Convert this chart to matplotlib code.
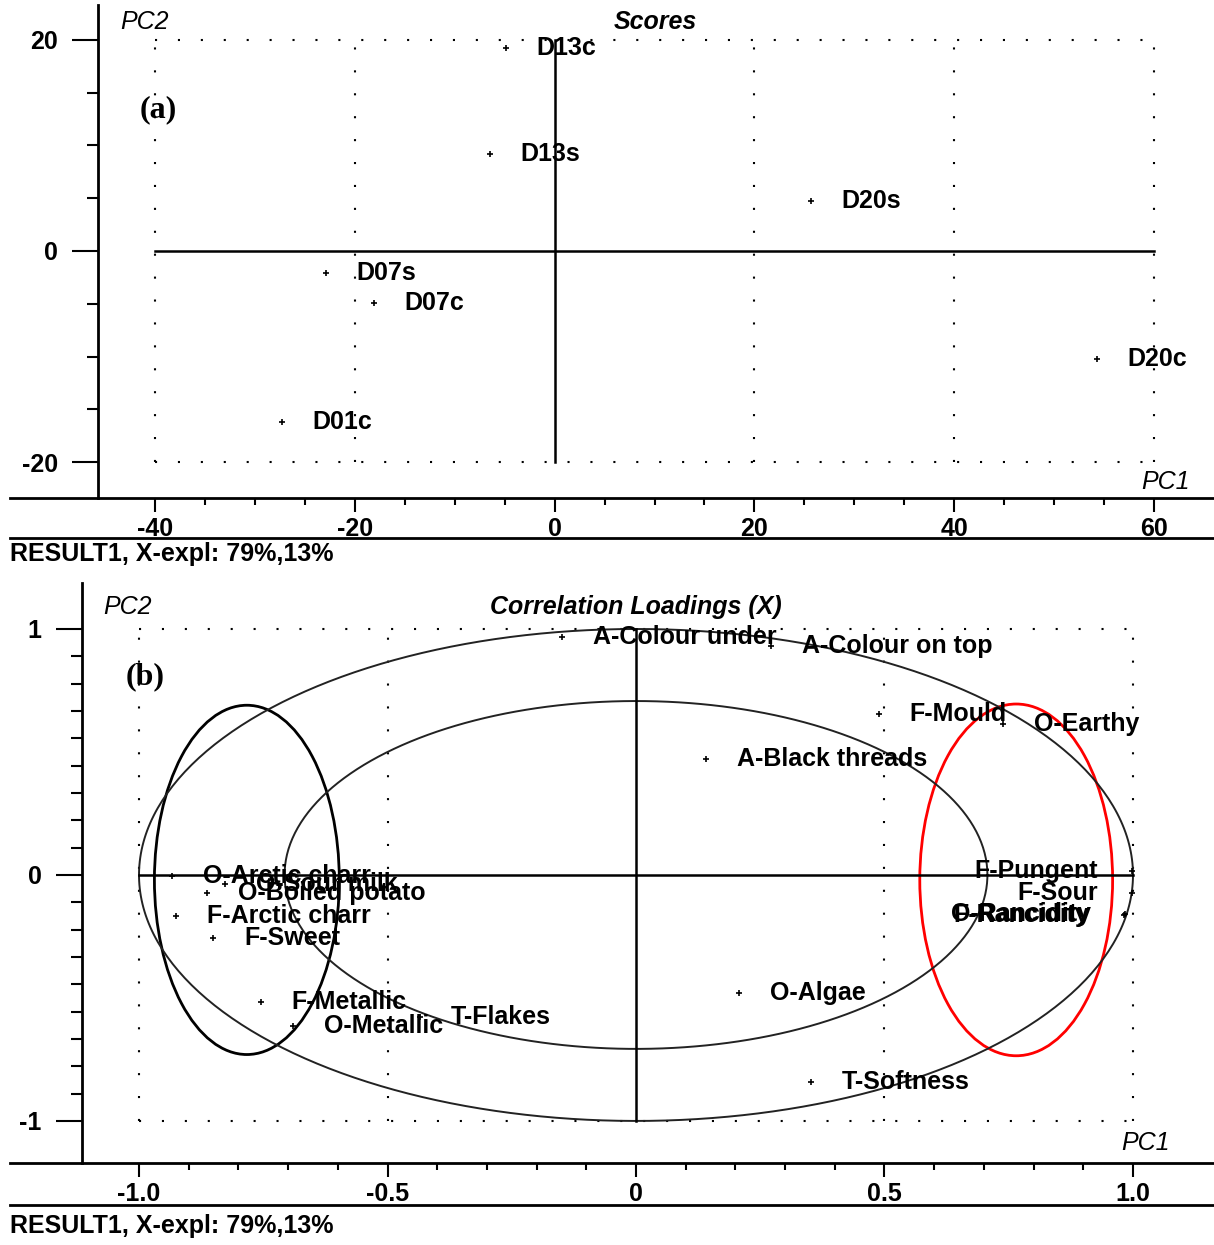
import numpy as np
import matplotlib
matplotlib.use("Agg")
import matplotlib.pyplot as plt
from matplotlib.lines import Line2D
from matplotlib.patches import Ellipse
from matplotlib.ticker import FixedLocator

plt.rcParams['font.family'] = ['Liberation Sans', 'DejaVu Sans']

W, H = 1214, 1245

# ---- scores (PC1, PC2) ----
score_names = ["D13c", "D13s", "D20s", "D07s", "D07c", "D01c", "D20c"]
score_pc1 = [-4.86, -6.47, 25.67, -22.88, -18.08, -27.29, 54.3]
score_pc2 = [19.24, 9.18, 4.72, -2.11, -4.91, -16.2, -10.2]

# ---- correlation loadings ----
load_names = ["A-Colour under", "A-Colour on top", "F-Mould", "O-Earthy",
              "A-Black threads", "F-Pungent", "F-Sour", "O-Rancidity",
              "F-Rancidity", "O-Arctic charr", "O-Sour milk", "O-Boiled potato",
              "F-Arctic charr", "F-Sweet", "F-Metallic", "O-Metallic",
              "T-Flakes", "O-Algae", "T-Softness"]
load_pc1 = [-0.149, 0.272, 0.488, 0.738, 0.141, 0.998, 0.998, 0.984, 0.981,
            -0.934, -0.827, -0.863, -0.926, -0.851, -0.755, -0.69, -0.435,
            0.207, 0.352]
load_pc2 = [0.967, 0.931, 0.654, 0.614, 0.472, 0.016, -0.073, -0.159, -0.163,
            -0.004, -0.037, -0.073, -0.167, -0.256, -0.516, -0.614, -0.577,
            -0.48, -0.841]
# labels drawn on the left of their point (near the right border)
left_labels = {"F-Pungent", "F-Sour", "O-Rancidity", "F-Rancidity"}

footer = "RESULT1, X-expl: 79%,13%"

DOT = (0, (1, 10))
LBL = dict(fontsize=18, fontweight='bold', color='black')


def px_axes(l, t, r, b):
    return [l / W, 1 - b / H, (r - l) / W, (b - t) / H]


def fig_hline(fig, y, x0=10, x1=W):
    fig.add_artist(Line2D([x0 / W, x1 / W], [1 - y / H, 1 - y / H],
                          transform=fig.transFigure, color='black', lw=2))


def style_axes(ax, ymaj, ymin, xmaj, xmin):
    for s in ['top', 'right', 'bottom']:
        ax.spines[s].set_visible(False)
    ax.spines['left'].set_linewidth(2)
    ax.yaxis.set_major_locator(FixedLocator(ymaj))
    ax.yaxis.set_minor_locator(FixedLocator(ymin))
    ax.xaxis.set_major_locator(FixedLocator(xmaj))
    ax.xaxis.set_minor_locator(FixedLocator(xmin))
    ax.tick_params(axis='y', which='major', length=19, width=1.5, pad=10,
                   labelsize=18)
    ax.tick_params(axis='y', which='minor', length=8, width=1.5)
    ax.tick_params(axis='x', which='major', length=10, width=1.5, pad=4,
                   labelsize=18)
    ax.tick_params(axis='x', which='minor', length=5, width=1.5)


fig = plt.figure(figsize=(W / 100, H / 100), dpi=100)

# ================= (a) Scores =================
ax1 = fig.add_axes(px_axes(98, 5, W, 498))
ax1.set_xlim(-45.7, 66.0)
ax1.set_ylim(-23.4, 23.3)
style_axes(ax1, [-20, 0, 20], np.arange(-20, 21, 5),
           [-40, -20, 0, 20, 40, 60], np.arange(-40, 61, 5))
ax1.set_yticklabels(['-20', '0', '20'], fontweight='bold')
ax1.set_xticklabels(['-40', '-20', '0', '20', '40', '60'], fontweight='bold')

for xv in [-40, -20, 20, 40, 60]:
    ax1.plot([xv, xv], [-20, 20], color='black', lw=1.5, ls=DOT)
for yv in [-20, 20]:
    ax1.plot([-40, 60], [yv, yv], color='black', lw=1.5, ls=DOT)
ax1.plot([-40, 60], [0, 0], color='black', lw=1.8)
ax1.plot([0, 0], [-20, 20], color='black', lw=1.8)

ax1.plot(score_pc1, score_pc2, '+', color='black', ms=5, mew=1.2)
for n, x, y in zip(score_names, score_pc1, score_pc2):
    ax1.annotate(n, (x, y), xytext=(30, 0), textcoords='offset pixels',
                 ha='left', va='center', **LBL)

fig_hline(fig, 498)
fig_hline(fig, 538)
fig.text(120 / W, 1 - 22 / H, "PC2", fontsize=18, style='italic',
         va='center', ha='left')
fig.text(655 / W, 1 - 22 / H, "Scores", fontsize=18, style='italic',
         fontweight='bold', va='center', ha='center')
fig.text(1190 / W, 1 - 482 / H, "PC1", fontsize=18, style='italic',
         va='center', ha='right')
fig.text(140 / W, 1 - 110 / H, "(a)", fontsize=23, fontweight='bold',
         family='Liberation Serif', va='center', ha='left')
fig.text(10 / W, 1 - 554 / H, footer, fontsize=18, fontweight='bold',
         va='center', ha='left')

# ================= (b) Correlation loadings =================
ax2 = fig.add_axes(px_axes(82, 583, W, 1163))
ax2.set_xlim(-1.1147, 1.163)
ax2.set_ylim(-1.171, 1.187)
style_axes(ax2, [-1, 0, 1], np.linspace(-1, 1, 19),
           [-1, -0.5, 0, 0.5, 1], np.linspace(-1, 1, 21))
ax2.set_yticklabels(['-1', '0', '1'], fontweight='bold')
ax2.set_xticklabels(['-1.0', '-0.5', '0', '0.5', '1.0'], fontweight='bold')

for xv in [-1, -0.5, 0.5, 1]:
    ax2.plot([xv, xv], [-1, 1], color='black', lw=1.5, ls=DOT)
for yv in [-1, 1]:
    ax2.plot([-1, 1], [yv, yv], color='black', lw=1.5, ls=DOT)

# 100% and 50% explained variance circles
t = np.linspace(0, 2 * np.pi, 400)
for r in [1.0, np.sqrt(0.5)]:
    ax2.plot(r * np.cos(t), r * np.sin(t), color='#222222', lw=1.4)
ax2.plot([-1, 1], [0, 0], color='black', lw=1.8)
ax2.plot([0, 0], [-1, 1], color='black', lw=1.8)

# hand-drawn group markers
ax2.add_patch(Ellipse((-0.783, -0.02), 0.372, 1.42, fill=False,
                      edgecolor='black', lw=2))
ax2.add_patch(Ellipse((0.765, -0.02), 0.388, 1.43, fill=False,
                      edgecolor='red', lw=2))

ax2.plot(load_pc1, load_pc2, '+', color='black', ms=5, mew=1.2)
for n, x, y in zip(load_names, load_pc1, load_pc2):
    if n in left_labels:
        ax2.annotate(n, (x, y), xytext=(-34, 0), textcoords='offset pixels',
                     ha='right', va='center', **LBL)
    else:
        ax2.annotate(n, (x, y), xytext=(31, 0), textcoords='offset pixels',
                     ha='left', va='center', **LBL)

fig_hline(fig, 1163)
fig_hline(fig, 1205)
fig.text(103 / W, 1 - 607 / H, "PC2", fontsize=18, style='italic',
         va='center', ha='left')
fig.text(636 / W, 1 - 607 / H, "Correlation Loadings (X)", fontsize=18,
         style='italic', fontweight='bold', va='center', ha='center')
fig.text(1170 / W, 1 - 1143 / H, "PC1", fontsize=18, style='italic',
         va='center', ha='right')
fig.text(126 / W, 1 - 677 / H, "(b)", fontsize=23, fontweight='bold',
         family='Liberation Serif', va='center', ha='left')
fig.text(10 / W, 1 - 1226 / H, footer, fontsize=18, fontweight='bold',
         va='center', ha='left')

fig.savefig("out.png", dpi=100)
